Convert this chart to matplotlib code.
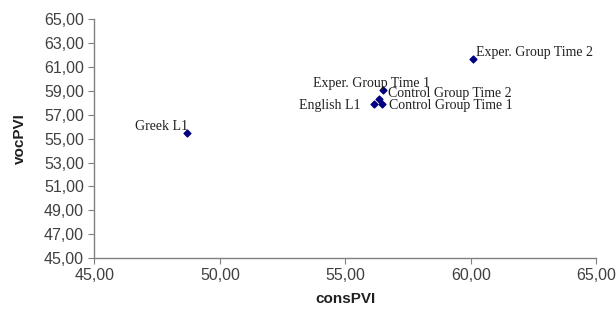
import matplotlib
matplotlib.use("Agg")
import matplotlib.pyplot as plt
from matplotlib.ticker import FuncFormatter

labels = ["Greek L1", "English L1", "Control Group Time 1", "Control Group Time 2",
          "Exper. Group Time 1", "Exper. Group Time 2"]
cons_pvi = [48.67, 56.16, 56.45, 56.32, 56.48, 60.09]
voc_pvi = [55.44, 57.90, 57.90, 58.29, 59.07, 61.70]
x_ticks = [45, 50, 55, 60, 65]
y_ticks = [45, 47, 49, 51, 53, 55, 57, 59, 61, 63, 65]

# label offsets in pixels and alignment
offsets = [(1, 7, "right"), (-14, -1, "right"), (7, -1, "left"), (9, 6, "left"),
           (47, 7, "right"), (3, 6, "left")]

fig = plt.figure(figsize=(6.16, 3.09), dpi=100)
ax = fig.add_axes([0.1534, 0.165, 0.8146, 0.7725])
ax.scatter(cons_pvi, voc_pvi, marker="D", s=12, color="#000080", zorder=3)

for lab, x, y, (dx, dy, ha) in zip(labels, cons_pvi, voc_pvi, offsets):
    ax.annotate(lab, (x, y), xytext=(dx, dy), textcoords="offset pixels",
                ha=ha, va="center", fontsize=10, family="Liberation Serif",
                color="#202020")

ax.set_xlim(45, 65)
ax.set_ylim(45, 65)
ax.set_xticks(x_ticks)
ax.set_yticks(y_ticks)
fmt = FuncFormatter(lambda v, p: f"{v:.2f}".replace(".", ","))
ax.xaxis.set_major_formatter(fmt)
ax.yaxis.set_major_formatter(fmt)

for s in ["top", "right"]:
    ax.spines[s].set_visible(False)
for s in ["left", "bottom"]:
    ax.spines[s].set_color("#808080")
    ax.spines[s].set_linewidth(1.0)
ax.tick_params(direction="out", length=4, color="#808080", labelsize=11.5,
               labelcolor="#404040")
for t in ax.get_xticklabels() + ax.get_yticklabels():
    t.set_family("Liberation Sans")

ax.set_xlabel("consPVI", fontsize=11, fontweight="bold", family="Liberation Sans",
              color="#202020", labelpad=6)
ax.set_ylabel("vocPVI", fontsize=11, fontweight="bold", family="Liberation Sans",
              color="#202020", labelpad=12)

fig.savefig("out.png", dpi=100)
